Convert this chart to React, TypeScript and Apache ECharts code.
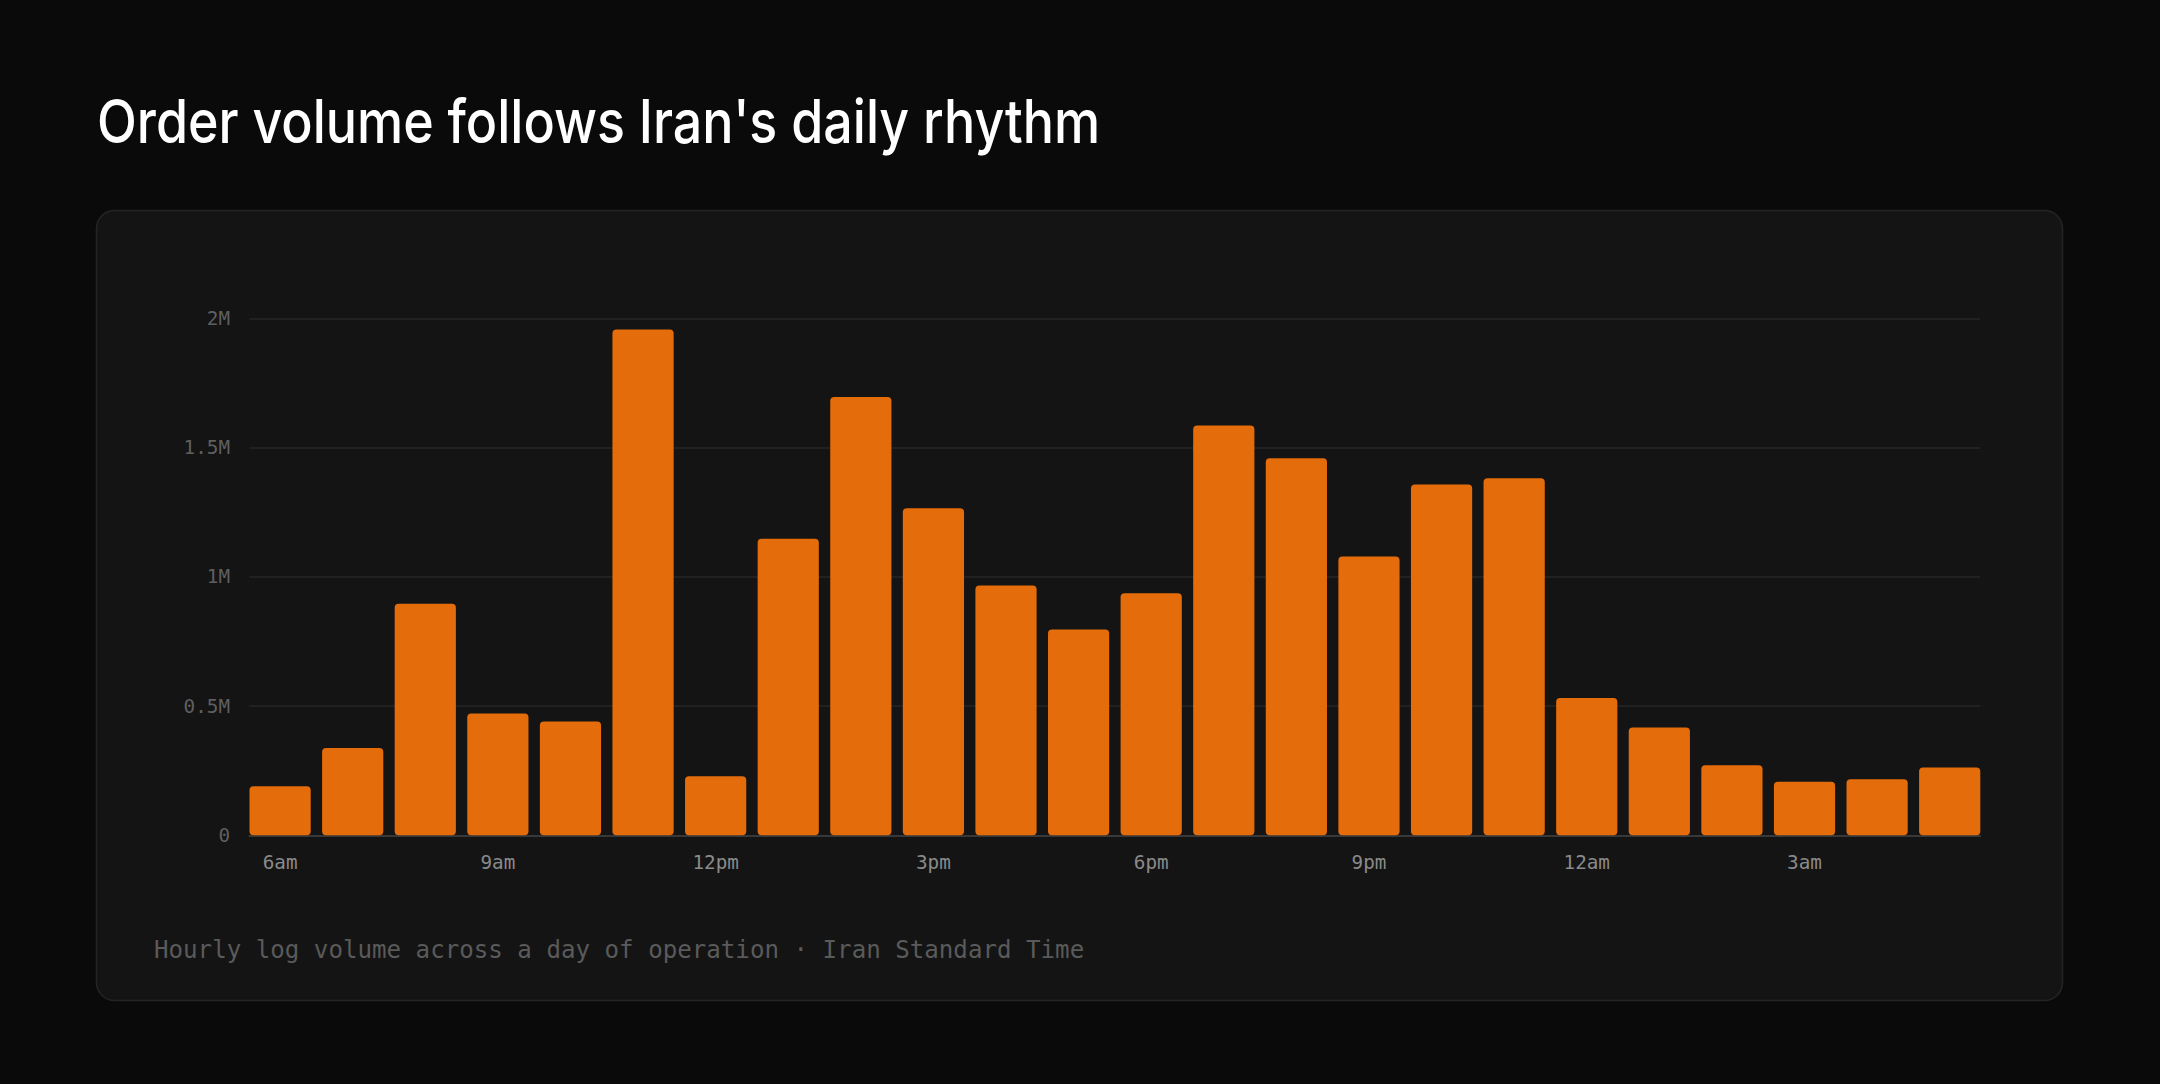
import React, { useEffect, useRef } from "react";
import * as echarts from "echarts";

const HOURS = [
  "6am", "7am", "8am", "9am", "10am", "11am", "12pm", "1pm", "2pm", "3pm", "4pm", "5pm",
  "6pm", "7pm", "8pm", "9pm", "10pm", "11pm", "12am", "1am", "2am", "3am", "4am", "5am",
];
const ORDERS = [
  190000, 338000, 896000, 471000, 440000, 1957000, 229000, 1148000, 1696000, 1266000, 967000, 796000,
  937000, 1586000, 1459000, 1079000, 1358000, 1382000, 531000, 417000, 271000, 207000, 217000, 262000,
];
const Y_TICKS = [0, 500000, 1000000, 1500000, 2000000];
const Y_TICK_LABELS = ["0", "0.5M", "1M", "1.5M", "2M"];
const TITLE = "Order volume follows Iran's daily rhythm";
const FOOTNOTE = "Hourly log volume across a day of operation · Iran Standard Time";

const MONO = "'DejaVu Sans Mono', monospace";

export default function App() {
  const ref = useRef<HTMLDivElement>(null);
  useEffect(() => {
    document.body.style.margin = "0";
    document.body.style.background = "#0a0a0a";
    const chart = echarts.init(ref.current!, null, { renderer: "svg" });
    const yMax = Y_TICKS[Y_TICKS.length - 1];
    const yStep = Y_TICKS[1] - Y_TICKS[0];
    chart.setOption({
      animation: false,
      backgroundColor: "#0a0a0a",
      graphic: [
        {
          type: "rect",
          z: -10,
          silent: true,
          shape: { x: 96.5, y: 210.5, width: 1966, height: 790, r: 18 },
          style: { fill: "#141414", stroke: "#242424", lineWidth: 1.5 },
        },
        {
          type: "text",
          x: 97,
          y: 122,
          scaleX: 0.866,
          style: {
            text: TITLE,
            fill: "#ffffff",
            font: "500 60px Inter",
            verticalAlign: "middle",
            align: "left",
          },
        },
        {
          type: "text",
          x: 154,
          y: 950,
          style: {
            text: FOOTNOTE,
            fill: "#5a5a5a",
            font: `24.15px ${MONO}`,
            verticalAlign: "middle",
            align: "left",
          },
        },
      ],
      grid: [
        { left: 243.8, width: 1742.2, top: 318.5, height: 516.8 },
        { left: 249.5, width: 1730.7, top: 318.5, height: 516.8 },
      ],
      xAxis: [
        {
          type: "category",
          gridIndex: 0,
          data: HOURS,
          axisLine: { show: false },
          axisTick: { show: false },
          axisLabel: {
            interval: 2,
            color: "#8a8a8a",
            fontFamily: MONO,
            fontSize: 19.3,
            margin: 17.5,
          },
        },
        {
          type: "category",
          gridIndex: 1,
          data: HOURS,
          axisLine: { show: true, lineStyle: { color: "#383838", width: 2 } },
          axisTick: { show: false },
          axisLabel: { show: false },
        },
      ],
      yAxis: [
        { type: "value", gridIndex: 0, min: 0, max: yMax, interval: yStep, show: false },
        {
          type: "value",
          gridIndex: 1,
          min: 0,
          max: yMax,
          interval: yStep,
          axisLine: { show: false },
          axisTick: { show: false },
          splitLine: { lineStyle: { color: "#262626", width: 1.5 } },
          axisLabel: {
            color: "#5f5f5f",
            fontFamily: MONO,
            fontSize: 19.3,
            margin: 19.5,
            formatter: (v: number) => {
              const i = Y_TICKS.indexOf(v);
              return i >= 0 ? Y_TICK_LABELS[i] : "";
            },
          },
        },
      ],
      series: [
        {
          type: "bar",
          xAxisIndex: 0,
          yAxisIndex: 0,
          data: ORDERS,
          barWidth: 61.2,
          z: 3,
          itemStyle: { color: "#e56c0a", borderRadius: 4 },
        },
      ],
    });
    return () => chart.dispose();
  }, []);
  return (
    <div
      ref={ref}
      style={{ position: "absolute", left: 0, top: 0, width: 2160, height: 1084 }}
    />
  );
}
